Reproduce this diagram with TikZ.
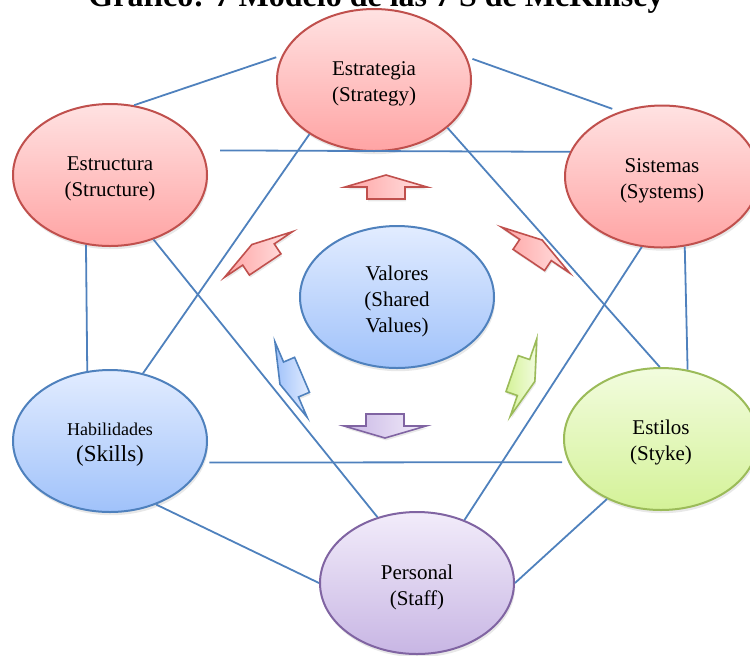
\documentclass[tikz,border=0pt]{standalone}
\usepackage{fontspec}
\setmainfont{Liberation Serif}
\usetikzlibrary{shapes.geometric,shadows}

\definecolor{linkblue}{RGB}{79,129,189}
\definecolor{redline}{RGB}{192,80,77}
\definecolor{redtop}{RGB}{255,226,226}
\definecolor{redbot}{RGB}{255,164,164}
\definecolor{blueline}{RGB}{79,129,189}
\definecolor{bluetop}{RGB}{226,236,255}
\definecolor{bluebot}{RGB}{160,194,250}
\definecolor{greenline}{RGB}{155,187,89}
\definecolor{greentop}{RGB}{242,252,222}
\definecolor{greenbot}{RGB}{212,242,152}
\definecolor{purpleline}{RGB}{128,100,162}
\definecolor{purpletop}{RGB}{242,236,250}
\definecolor{purplebot}{RGB}{200,182,228}

\tikzset{
  oval/.style={ellipse, inner sep=0pt, minimum width=97pt, minimum height=71pt,
    line width=1pt,
    drop shadow={opacity=0.18, shadow xshift=0.6pt, shadow yshift=-1.6pt}},
  ovaltext/.style={align=center, inner sep=0pt, font=\fontsize{10.5}{13}\selectfont},
  redoval/.style={oval, draw=redline, top color=redtop, bottom color=redbot},
  blueoval/.style={oval, draw=blueline, top color=bluetop, bottom color=bluebot},
  greenoval/.style={oval, draw=greenline, top color=greentop, bottom color=greenbot},
  purpleoval/.style={oval, draw=purpleline, top color=purpletop, bottom color=purplebot},
  link/.style={draw=linkblue, line width=0.9pt},
  arrowshadow/.style={drop shadow={opacity=0.18, shadow xshift=0.5pt, shadow yshift=-1.2pt}},
  redarrow/.style={draw=redline, line width=0.8pt, left color=redbot, right color=redtop, arrowshadow},
  bluearrow/.style={draw=blueline, line width=0.8pt, left color=bluebot, right color=bluetop, arrowshadow},
  greenarrow/.style={draw=greenline, line width=0.8pt, left color=greenbot, right color=greentop, arrowshadow},
  purplearrow/.style={draw=purpleline, line width=0.8pt, left color=purplebot, right color=purpletop, arrowshadow},
  cyclearrow/.pic={
    \path[#1] (-6pt,-9.5pt) -- (0,-9.5pt) -- (0,-20.5pt) -- (6pt,0)
      -- (0,20.5pt) -- (0,9.5pt) -- (-6pt,9.5pt) -- cycle;
  }
}

\begin{document}
\begin{tikzpicture}[x=0.5pt,y=-0.5pt]
  \useasboundingbox (0,0) rectangle (750,655);
  \clip (0,0) rectangle (750,655);

  % title (cut off at the top)
  \node[anchor=base, font=\fontsize{16}{19}\selectfont\bfseries] (title) at (376,6)
    {Gráfico: 7 Modelo de las 7 S de McKinsey};

  % the seven S
  \node[redoval] (strat) at (374,80) {};
  \node[redoval] (estr) at (110,175) {};
  \node[redoval] (sist) at (662,176.5) {};
  \node[blueoval] (valores) at (397,297) {};
  \node[blueoval] (skills) at (110,441) {};
  \node[greenoval] (estilos) at (661,439) {};
  \node[purpleoval] (staff) at (417,583) {};

  \node[ovaltext] (strattext) at ([yshift=-2pt]strat.center) {Estrategia\\(Strategy)};
  \node[ovaltext] (estrtext) at ([yshift=-2pt]estr.center) {Estructura\\(Structure)};
  \node[ovaltext] (sisttext) at ([yshift=-2pt]sist.center) {Sistemas\\(Systems)};
  \node[ovaltext] (valorestext) at ([yshift=-2pt]valores.center) {Valores\\(Shared\\Values)};
  \node[ovaltext] (skillstext) at ([yshift=-2pt]skills.center)
    {{\fontsize{9}{13}\selectfont Habilidades}\\{\fontsize{11.5}{13}\selectfont (Skills)}};
  \node[ovaltext] (estilostext) at ([yshift=-1.5pt]estilos.center) {Estilos\\(Styke)};
  \node[ovaltext] (stafftext) at ([yshift=-2pt]staff.center) {Personal\\(Staff)};

  \path[link]
    (strat.165.5) edge[shorten <=3pt] (estr.71)
    (strat.14.5) edge[shorten <=3pt, shorten >=4pt] (sist.123.5)
    (estr.15.4) edge[shorten <=9pt] (sist.165.6)
    (strat.220) edge (skills.64.7)
    (strat.327.6) edge (estilos.91)
    (estr.251.3) edge (skills.108.7)
    (estr.304.4) edge (staff.121.2)
    (sist.288.8) edge (estilos.69.9)
    (sist.254) edge (staff.53.3)
    (skills.347.3) edge[shorten <=3pt, shorten >=3pt] (estilos.194.5)
    (skills.306.7) edge (staff.180)
    (estilos.228.4) edge (staff.0)
    ;

  % arrows round the shared values
  \pic[rotate=90] at (386,187) {cyclearrow=redarrow};
  \pic[rotate=123.9] at (258.5,254.5) {cyclearrow=redarrow};
  \pic[rotate=56.1] at (535.5,250) {cyclearrow=redarrow};
  \pic[rotate=203.1] at (291,379.5) {cyclearrow=bluearrow};
  \pic[rotate=341.1] at (523.5,377.5) {cyclearrow=greenarrow};
  \pic[rotate=270] at (385,426) {cyclearrow=purplearrow};
\end{tikzpicture}
\end{document}
